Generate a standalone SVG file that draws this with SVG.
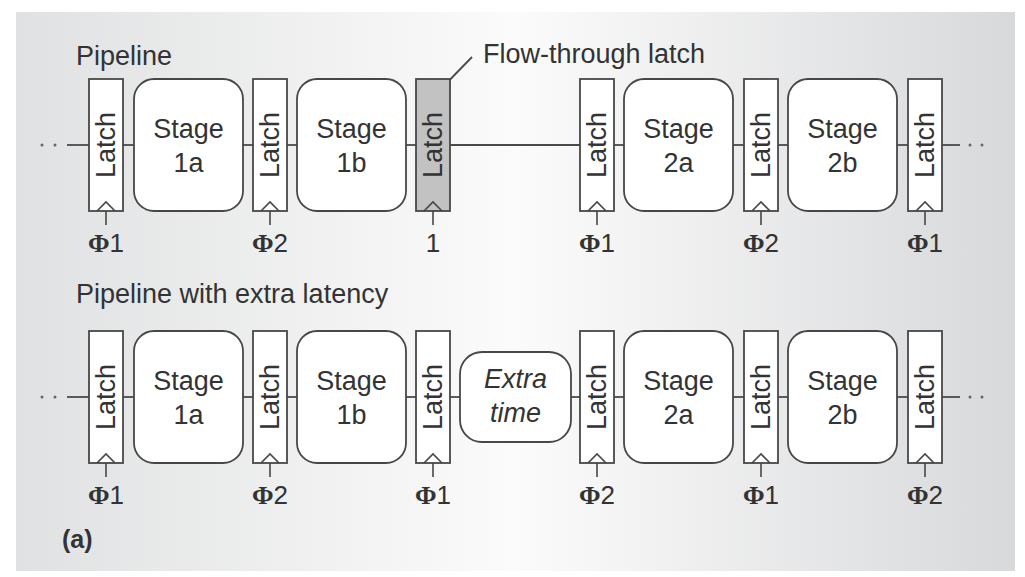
<svg xmlns="http://www.w3.org/2000/svg" width="1025" height="577" viewBox="0 0 1025 577">
<defs>
<linearGradient id="bg" x1="0" y1="0" x2="1" y2="0">
<stop offset="0" stop-color="#e0e1e2"/>
<stop offset="0.5" stop-color="#fbfbfb"/>
<stop offset="1" stop-color="#d8d9db"/>
</linearGradient>
</defs>
<style>
.latch{fill:#fff;stroke:#474747;stroke-width:1.8}
.latch.ft{fill:#c2c2c2}
.stage{fill:#fff;stroke:#474747;stroke-width:1.8}
.clk{fill:none;stroke:#474747;stroke-width:1.6}
.wire{stroke:#4a4a4a;stroke-width:1.8;fill:none}
.dot{fill:#666}
.t{font-family:"Liberation Sans",Arial,sans-serif;font-size:27px;fill:#333}
.c{text-anchor:middle}
.ph{font-family:"Liberation Sans",Arial,sans-serif;font-size:26px;fill:#333;text-anchor:middle}
.phi{font-family:"Liberation Serif","Times New Roman",serif;font-weight:bold}
.it{font-style:italic}
.b{font-weight:bold;font-size:25px}
</style>
<rect x="16" y="12" width="999" height="559" fill="url(#bg)"/>

<text class="t" x="76" y="65">Pipeline</text>
<text class="t" x="76" y="303">Pipeline with extra latency</text>
<text class="t" x="483" y="63">Flow-through latch</text>
<text class="t b" x="62" y="548">(a)</text>

<g id="connectors">
<line class="wire" x1="67" y1="145" x2="89" y2="145"/>
<line class="wire" x1="123" y1="145" x2="134" y2="145"/>
<line class="wire" x1="243" y1="145" x2="253" y2="145"/>
<line class="wire" x1="287" y1="145" x2="297" y2="145"/>
<line class="wire" x1="406" y1="145" x2="416" y2="145"/>
<line class="wire" x1="450" y1="145" x2="580" y2="145"/>
<line class="wire" x1="614" y1="145" x2="624" y2="145"/>
<line class="wire" x1="733" y1="145" x2="744" y2="145"/>
<line class="wire" x1="778" y1="145" x2="788" y2="145"/>
<line class="wire" x1="897" y1="145" x2="908" y2="145"/>
<line class="wire" x1="942" y1="145" x2="960" y2="145"/>
<circle class="dot" cx="42" cy="145" r="1.5"/><circle class="dot" cx="55" cy="145" r="1.5"/>
<circle class="dot" cx="970" cy="145" r="1.5"/><circle class="dot" cx="982" cy="145" r="1.5"/>
<line class="wire" x1="436" y1="94" x2="472" y2="57" stroke-width="1.5"/>

<line class="wire" x1="67" y1="397" x2="89" y2="397"/>
<line class="wire" x1="123" y1="397" x2="134" y2="397"/>
<line class="wire" x1="243" y1="397" x2="253" y2="397"/>
<line class="wire" x1="287" y1="397" x2="297" y2="397"/>
<line class="wire" x1="406" y1="397" x2="416" y2="397"/>
<line class="wire" x1="450" y1="397" x2="460" y2="397"/>
<line class="wire" x1="571" y1="397" x2="580" y2="397"/>
<line class="wire" x1="614" y1="397" x2="624" y2="397"/>
<line class="wire" x1="733" y1="397" x2="744" y2="397"/>
<line class="wire" x1="778" y1="397" x2="788" y2="397"/>
<line class="wire" x1="897" y1="397" x2="908" y2="397"/>
<line class="wire" x1="942" y1="397" x2="960" y2="397"/>
<circle class="dot" cx="42" cy="397" r="1.5"/><circle class="dot" cx="55" cy="397" r="1.5"/>
<circle class="dot" cx="970" cy="397" r="1.5"/><circle class="dot" cx="982" cy="397" r="1.5"/>
</g>

<!-- Top row -->
<g id="t-latch1"><rect class="latch" x="89" y="79" width="34" height="132"/><polyline class="clk" points="97,211 106,202 115,211"/><line class="clk" x1="106" y1="211" x2="106" y2="225"/><text class="t c" transform="translate(115,145) rotate(-90)">Latch</text><text class="ph" x="106" y="252"><tspan class="phi">Φ</tspan>1</text></g>
<g id="t-stage1a"><rect class="stage" x="134" y="79" width="109" height="132" rx="20"/><text class="t c" x="188.5" y="138">Stage</text><text class="t c" x="188.5" y="172">1a</text></g>
<g id="t-latch2"><rect class="latch" x="253" y="79" width="34" height="132"/><polyline class="clk" points="261,211 270,202 279,211"/><line class="clk" x1="270" y1="211" x2="270" y2="225"/><text class="t c" transform="translate(279,145) rotate(-90)">Latch</text><text class="ph" x="270" y="252"><tspan class="phi">Φ</tspan>2</text></g>
<g id="t-stage1b"><rect class="stage" x="297" y="79" width="109" height="132" rx="20"/><text class="t c" x="351.5" y="138">Stage</text><text class="t c" x="351.5" y="172">1b</text></g>
<g id="t-latch3"><rect class="latch ft" x="416" y="79" width="34" height="132"/><polyline class="clk" points="424,211 433,202 442,211"/><line class="clk" x1="433" y1="211" x2="433" y2="225"/><text class="t c" transform="translate(442,145) rotate(-90)">Latch</text><text class="ph" x="433" y="252">1</text></g>
<g id="t-latch4"><rect class="latch" x="580" y="79" width="34" height="132"/><polyline class="clk" points="588,211 597,202 606,211"/><line class="clk" x1="597" y1="211" x2="597" y2="225"/><text class="t c" transform="translate(606,145) rotate(-90)">Latch</text><text class="ph" x="597" y="252"><tspan class="phi">Φ</tspan>1</text></g>
<g id="t-stage2a"><rect class="stage" x="624" y="79" width="109" height="132" rx="20"/><text class="t c" x="678.5" y="138">Stage</text><text class="t c" x="678.5" y="172">2a</text></g>
<g id="t-latch5"><rect class="latch" x="744" y="79" width="34" height="132"/><polyline class="clk" points="752,211 761,202 770,211"/><line class="clk" x1="761" y1="211" x2="761" y2="225"/><text class="t c" transform="translate(770,145) rotate(-90)">Latch</text><text class="ph" x="761" y="252"><tspan class="phi">Φ</tspan>2</text></g>
<g id="t-stage2b"><rect class="stage" x="788" y="79" width="109" height="132" rx="20"/><text class="t c" x="842.5" y="138">Stage</text><text class="t c" x="842.5" y="172">2b</text></g>
<g id="t-latch6"><rect class="latch" x="908" y="79" width="34" height="132"/><polyline class="clk" points="916,211 925,202 934,211"/><line class="clk" x1="925" y1="211" x2="925" y2="225"/><text class="t c" transform="translate(934,145) rotate(-90)">Latch</text><text class="ph" x="925" y="252"><tspan class="phi">Φ</tspan>1</text></g>

<!-- Bottom row -->
<g id="b-latch1"><rect class="latch" x="89" y="331" width="34" height="132"/><polyline class="clk" points="97,463 106,454 115,463"/><line class="clk" x1="106" y1="463" x2="106" y2="477"/><text class="t c" transform="translate(115,397) rotate(-90)">Latch</text><text class="ph" x="106" y="504"><tspan class="phi">Φ</tspan>1</text></g>
<g id="b-stage1a"><rect class="stage" x="134" y="331" width="109" height="132" rx="20"/><text class="t c" x="188.5" y="390">Stage</text><text class="t c" x="188.5" y="424">1a</text></g>
<g id="b-latch2"><rect class="latch" x="253" y="331" width="34" height="132"/><polyline class="clk" points="261,463 270,454 279,463"/><line class="clk" x1="270" y1="463" x2="270" y2="477"/><text class="t c" transform="translate(279,397) rotate(-90)">Latch</text><text class="ph" x="270" y="504"><tspan class="phi">Φ</tspan>2</text></g>
<g id="b-stage1b"><rect class="stage" x="297" y="331" width="109" height="132" rx="20"/><text class="t c" x="351.5" y="390">Stage</text><text class="t c" x="351.5" y="424">1b</text></g>
<g id="b-latch3"><rect class="latch" x="416" y="331" width="34" height="132"/><polyline class="clk" points="424,463 433,454 442,463"/><line class="clk" x1="433" y1="463" x2="433" y2="477"/><text class="t c" transform="translate(442,397) rotate(-90)">Latch</text><text class="ph" x="433" y="504"><tspan class="phi">Φ</tspan>1</text></g>
<g id="b-extra"><rect class="stage" x="460" y="352" width="111" height="90" rx="22"/><text class="t c it" x="515.5" y="388">Extra</text><text class="t c it" x="515.5" y="422">time</text></g>
<g id="b-latch4"><rect class="latch" x="580" y="331" width="34" height="132"/><polyline class="clk" points="588,463 597,454 606,463"/><line class="clk" x1="597" y1="463" x2="597" y2="477"/><text class="t c" transform="translate(606,397) rotate(-90)">Latch</text><text class="ph" x="597" y="504"><tspan class="phi">Φ</tspan>2</text></g>
<g id="b-stage2a"><rect class="stage" x="624" y="331" width="109" height="132" rx="20"/><text class="t c" x="678.5" y="390">Stage</text><text class="t c" x="678.5" y="424">2a</text></g>
<g id="b-latch5"><rect class="latch" x="744" y="331" width="34" height="132"/><polyline class="clk" points="752,463 761,454 770,463"/><line class="clk" x1="761" y1="463" x2="761" y2="477"/><text class="t c" transform="translate(770,397) rotate(-90)">Latch</text><text class="ph" x="761" y="504"><tspan class="phi">Φ</tspan>1</text></g>
<g id="b-stage2b"><rect class="stage" x="788" y="331" width="109" height="132" rx="20"/><text class="t c" x="842.5" y="390">Stage</text><text class="t c" x="842.5" y="424">2b</text></g>
<g id="b-latch6"><rect class="latch" x="908" y="331" width="34" height="132"/><polyline class="clk" points="916,463 925,454 934,463"/><line class="clk" x1="925" y1="463" x2="925" y2="477"/><text class="t c" transform="translate(934,397) rotate(-90)">Latch</text><text class="ph" x="925" y="504"><tspan class="phi">Φ</tspan>2</text></g>
</svg>
